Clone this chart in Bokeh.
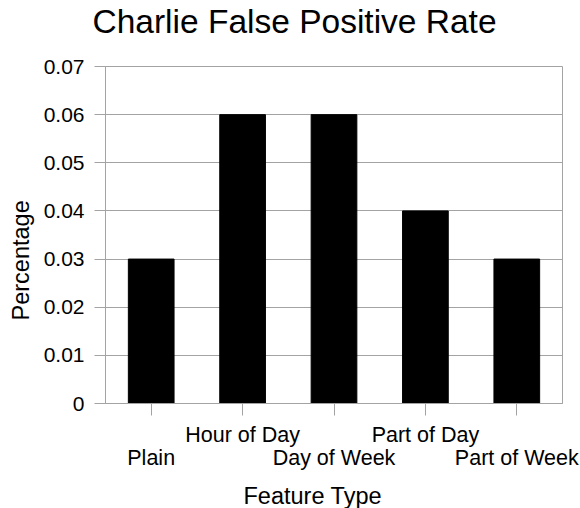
from bokeh.plotting import figure
from bokeh.models import FixedTicker, LinearAxis, Range1d, Title
from bokeh.embed import file_html
from bokeh.resources import INLINE

categories = ["Plain", "Hour of Day", "Day of Week", "Part of Day", "Part of Week"]
rates = [0.03, 0.06, 0.06, 0.04, 0.03]
y_ticks = [0, 0.01, 0.02, 0.03, 0.04, 0.05, 0.06, 0.07]
y_tick_labels = ["0", "0.01", "0.02", "0.03", "0.04", "0.05", "0.06", "0.07"]
title_text = "Charlie False Positive Rate"
x_title = "Feature Type"
y_title = "Percentage"

positions = list(range(1, len(categories) + 1))
FONT = "Liberation Sans"
GREY = "#a3a3a3"
TXT = "#000000"

p = figure(frame_width=457, frame_height=337,
           x_range=Range1d(0.5, len(categories) + 0.5), y_range=Range1d(0, 0.07),
           output_backend="svg", toolbar_location=None,
           min_border_left=105, min_border_right=18, min_border_top=0, min_border_bottom=0)
p.title = Title(text=title_text, text_font=FONT, text_font_size="33.5px",
                text_font_style="normal", align="left", offset=-13, standoff=0,
                text_color=TXT)
# spacer between title and frame
p.add_layout(Title(text=" ", text_font_size="1px", standoff=24), "above")

p.vbar(x=positions, top=rates, width=0.5, fill_color="black", line_color="black")

p.xgrid.visible = False
p.ygrid.grid_line_color = GREY
p.outline_line_color = GREY

ya = p.yaxis[0]
ya.ticker = FixedTicker(ticks=y_ticks)
ya.major_label_overrides = {t: l for t, l in zip(y_ticks, y_tick_labels)}
ya.major_tick_out = 11
ya.major_tick_in = 0
ya.minor_tick_line_color = None
ya.axis_line_color = GREY
ya.major_tick_line_color = GREY
ya.major_label_text_font = FONT
ya.major_label_text_font_size = "21px"
ya.major_label_text_color = TXT
ya.major_label_standoff = 10

upper = {pos: (c if i % 2 == 1 else "") for i, (pos, c) in enumerate(zip(positions, categories))}
lower = {pos: (c if i % 2 == 0 else "") for i, (pos, c) in enumerate(zip(positions, categories))}

xa = p.xaxis[0]
xa.ticker = FixedTicker(ticks=positions)
xa.major_label_overrides = upper
xa.major_tick_out = 12
xa.major_tick_in = 0
xa.minor_tick_line_color = None
xa.axis_line_color = GREY
xa.major_tick_line_color = GREY
xa.major_label_text_font = FONT
xa.major_label_text_font_size = "21.5px"
xa.major_label_text_color = TXT
xa.major_label_standoff = 7

xb = LinearAxis(ticker=FixedTicker(ticks=positions), major_label_overrides=lower)
xb.axis_line_color = None
xb.major_tick_line_color = None
xb.minor_tick_line_color = None
xb.major_tick_out = 0
xb.major_tick_in = 0
xb.major_label_standoff = -4
xb.major_label_text_font = FONT
xb.major_label_text_font_size = "21.5px"
xb.major_label_text_color = TXT
p.add_layout(xb, "below")

# spacer, then x title
p.add_layout(Title(text=" ", text_font_size="1px", standoff=5), "below")
p.add_layout(Title(text=x_title, text_font=FONT, text_font_size="23.5px",
                   text_font_style="normal", align="left", offset=138, standoff=0,
                   text_color=TXT), "below")
p.add_layout(Title(text=y_title, text_font=FONT, text_font_size="23.5px",
                   text_font_style="normal", align="left", offset=83, standoff=12,
                   vertical_align="middle", text_color=TXT), "left")

open("out.html", "w").write(file_html(p, INLINE))
